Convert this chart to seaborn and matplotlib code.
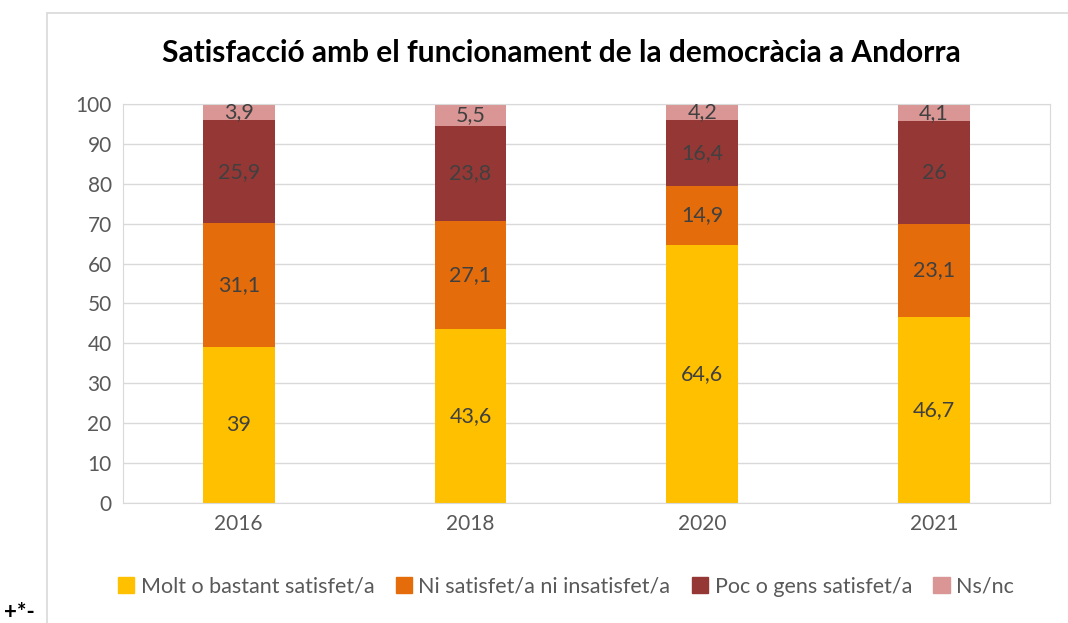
import matplotlib
matplotlib.use("Agg")
import matplotlib.pyplot as plt
import matplotlib.patches as mpatches
import seaborn as sns
import pandas as pd
import numpy as np

years = ["2016", "2018", "2020", "2021"]
series = ["Molt o bastant satisfet/a", "Ni satisfet/a ni insatisfet/a",
          "Poc o gens satisfet/a", "Ns/nc"]
molt = [39, 43.6, 64.6, 46.7]
ni = [31.1, 27.1, 14.9, 23.1]
poc = [25.9, 23.8, 16.4, 26]
nsnc = [3.9, 5.5, 4.2, 4.1]
colors = ["#FFC000", "#E46C0A", "#953735", "#D99694"]

sns.set_style("white")
plt.rcParams["font.family"] = ["Lato", "DejaVu Sans"]

fig = plt.figure(figsize=(10.68, 6.23), dpi=100)
ax = fig.add_axes([0.115, 0.193, 0.868, 0.64])

bottom = np.zeros(len(years))
for name, vals, col in zip(series, [molt, ni, poc, nsnc], colors):
    df = pd.DataFrame({"year": years, "value": vals})
    sns.barplot(data=df, x="year", y="value", color=col, width=0.31, saturation=1,
                bottom=bottom.copy(), ax=ax, label=name, linewidth=0)
    ax.bar_label(ax.containers[-1], labels=[f"{v:g}".replace(".", ",") for v in vals],
                 label_type="center", color="#404040", fontsize=15.5)
    bottom += np.array(vals)

ax.set_ylim(0, 100)
ax.set_yticks(range(0, 101, 10))
ax.set_xlim(-0.5, 3.5)
ax.set_xlabel("")
ax.set_ylabel("")
ax.yaxis.grid(True, color="#D9D9D9", linewidth=1)
ax.set_axisbelow(True)
for s in ax.spines.values():
    s.set_color("#D9D9D9")
    s.set_visible(True)
ax.tick_params(axis="both", length=0, labelsize=15, labelcolor="#595959", pad=8)
if ax.get_legend():
    ax.get_legend().remove()

fig.text(0.526, 0.915, "Satisfacció amb el funcionament de la democràcia a Andorra",
         ha="center", va="center", fontsize=21.5, fontweight="bold", color="black")

handles = [mpatches.Patch(color=c, label=s) for c, s in zip(colors, series)]
fig.legend(handles=handles, loc="center", bbox_to_anchor=(0.53, 0.058), ncol=4,
           frameon=False, fontsize=15.5, handlelength=0.75, handleheight=0.75,
           handletextpad=0.3, columnspacing=1.0, labelcolor="#595959")

# outer chart frame (partially visible)
fig.add_artist(plt.Line2D([0.044, 1.0], [0.979, 0.979], color="#D9D9D9", linewidth=1.2))
fig.add_artist(plt.Line2D([0.044, 0.044], [0.0, 0.979], color="#D9D9D9", linewidth=1.2))
fig.text(0.004, 0.0, "+*-", fontsize=16, fontweight="bold", color="black",
         ha="left", va="bottom")

fig.savefig("out.png", dpi=100)
